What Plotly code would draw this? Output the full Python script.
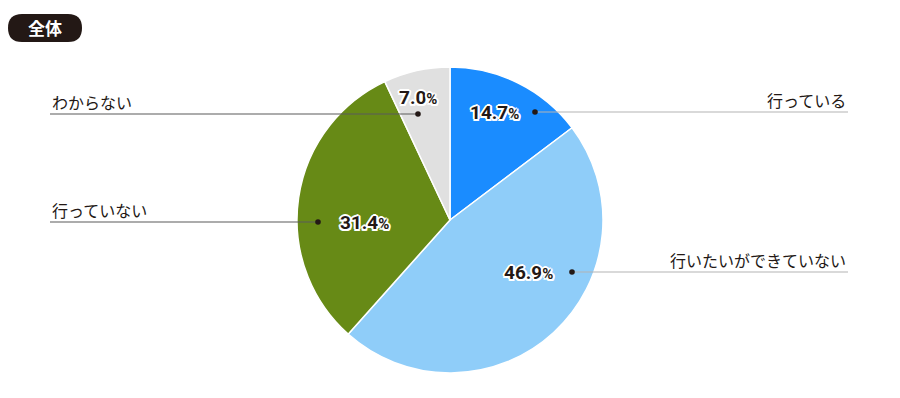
import plotly.graph_objects as go

W, H = 900, 398

# ---- data ----
categories = ["行っている", "行いたいができていない", "行っていない", "わからない"]
values = [14.7, 46.9, 31.4, 7.0]
pct_labels = ["14.7", "46.9", "31.4", "7.0"]
colors = ["#1a8cff", "#8fcdf9", "#678a16", "#e0e0e0"]
title_badge = "全体"

# ---- layout helpers (pixel -> paper) ----
def px(x):
    return x / W

def py(y):
    return 1 - y / H

cx, cy, R = 450, 220, 153

fig = go.Figure(go.Pie(
    labels=categories, values=values, sort=False, direction="clockwise",
    rotation=0, textinfo="none", hoverinfo="label+percent",
    marker=dict(colors=colors, line=dict(color="white", width=1.5)),
    domain=dict(x=[px(cx - R), px(cx + R)], y=[py(cy + R), py(cy - R)]),
    showlegend=False,
))

# label placement: (dot x, dot y, text x, text y, side, line color)
place = [
    (535, 112, 494, 112, "right", "#b4b4b4"),
    (572, 272, 528, 272, "right", "#b4b4b4"),
    (318, 222, 364, 222, "left", "#5a5a5a"),
    (418, 114, 418, 97, "left", "#5a5a5a"),
]

shapes = []
annotations = []
pct_shadow = ("2px 0 0 #fff, -2px 0 0 #fff, 0 2px 0 #fff, 0 -2px 0 #fff, "
              "1.5px 1.5px 0 #fff, -1.5px -1.5px 0 #fff, 1.5px -1.5px 0 #fff, -1.5px 1.5px 0 #fff")
for cat, pl, (dx, dy, tx, ty, side, lc) in zip(categories, pct_labels, place):
    if side == "right":
        x0, x1 = dx, 848
        lx, anchor = 848, "right"
    else:
        x0, x1 = 50, dx
        lx, anchor = 50, "left"
    shapes.append(dict(type="line", xref="paper", yref="paper",
                       x0=px(x0), x1=px(x1), y0=py(dy), y1=py(dy),
                       line=dict(color=lc, width=1.2)))
    r = 2.8
    shapes.append(dict(type="circle", xref="paper", yref="paper",
                       x0=px(dx - r), x1=px(dx + r), y0=py(dy + r), y1=py(dy - r),
                       fillcolor="#231815", line=dict(width=0)))
    annotations.append(dict(x=px(lx), y=py(dy - 12), xref="paper", yref="paper",
                            text=cat, showarrow=False, xanchor=anchor, yanchor="middle",
                            font=dict(family="Noto Sans CJK JP", size=16, color="#231815")))
    annotations.append(dict(x=px(tx), y=py(ty), xref="paper", yref="paper",
                            text=f"{pl}<span style='font-size:15px'>%</span>",
                            showarrow=False, xanchor="center", yanchor="middle",
                            font=dict(family="Liberation Sans Narrow, Roboto", size=19,
                                      color="#231815", weight="bold",
                                      shadow=pct_shadow)))

# badge (pill)
bx0, bx1, by0, by1, br = 8, 82, 14, 42, 14
def P(x, y):
    return f"{px(x)},{py(y)}"
path = (f"M {P(bx0 + br, by0)} L {P(bx1 - br, by0)} Q {P(bx1, by0)} {P(bx1, (by0 + by1) / 2)} "
        f"Q {P(bx1, by1)} {P(bx1 - br, by1)} L {P(bx0 + br, by1)} "
        f"Q {P(bx0, by1)} {P(bx0, (by0 + by1) / 2)} Q {P(bx0, by0)} {P(bx0 + br, by0)} Z")
shapes.append(dict(type="path", xref="paper", yref="paper", path=path,
                   fillcolor="#231815", line=dict(width=0)))
annotations.append(dict(x=px(45), y=py(28), xref="paper", yref="paper", text=f"<b>{title_badge}</b>",
                        showarrow=False, xanchor="center", yanchor="middle",
                        font=dict(family="Noto Sans CJK JP", size=17, color="white")))

fig.update_layout(
    width=W, height=H, margin=dict(l=0, r=0, t=0, b=0),
    paper_bgcolor="white", plot_bgcolor="white",
    shapes=shapes, annotations=annotations,
)

fig.write_html("out.html")
